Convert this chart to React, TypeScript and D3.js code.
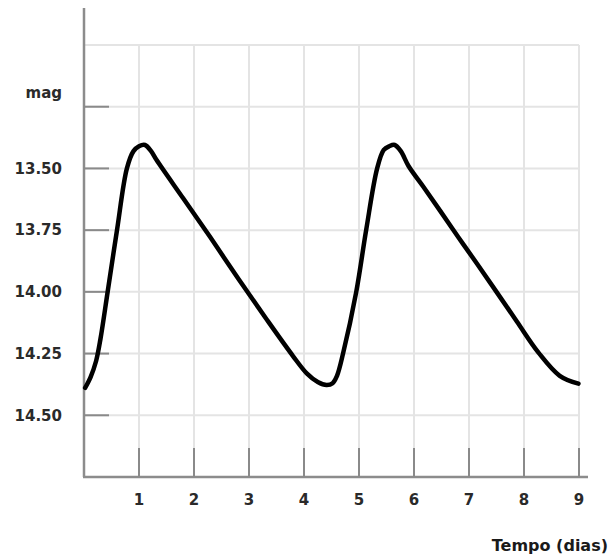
import React from 'react'
import * as d3 from 'd3'

// light curve: time in days, magnitude
const days = [0.02, 0.12, 0.22, 0.3, 0.43, 0.6, 0.78, 0.9, 1.0, 1.11, 1.22, 1.32, 1.8, 2.3, 2.8, 3.3, 3.8, 4.05, 4.25, 4.41, 4.52, 4.6, 4.71, 4.95, 5.13, 5.33, 5.45, 5.55, 5.65, 5.76, 5.9, 6.17, 6.47, 6.8, 7.14, 7.5, 7.87, 8.26, 8.65, 8.99]
const mags = [14.389, 14.345, 14.28, 14.19, 14.0, 13.75, 13.5, 13.43, 13.41, 13.405, 13.43, 13.466, 13.62, 13.78, 13.945, 14.105, 14.26, 14.33, 14.365, 14.377, 14.37, 14.34, 14.25, 14.0, 13.75, 13.5, 13.425, 13.41, 13.405, 13.43, 13.49, 13.574, 13.67, 13.777, 13.884, 14.0, 14.12, 14.245, 14.34, 14.372]

const xTicks = [1, 2, 3, 4, 5, 6, 7, 8, 9]
const yTicks = [13.25, 13.5, 13.75, 14.0, 14.25, 14.5]
const yGrid = [13.0, 13.25, 13.5, 13.75, 14.0, 14.25, 14.5]
const yLabels = ['13.50', '13.75', '14.00', '14.25', '14.50']

const W = 611
const H = 559

export default function App() {
  const x = d3.scaleLinear().domain([0, 9]).range([84, 579])
  const y = d3.scaleLinear().domain([13, 14.75]).range([45, 477])

  const line = d3.line<number>()
    .x((d, i) => x(days[i]))
    .y((d) => y(d))
    .curve(d3.curveCatmullRom.alpha(0.5))

  const font = '"DejaVu Sans", Verdana, sans-serif'

  return (
    <svg width={W} height={H} style={{ position: 'absolute', left: 0, top: 0, background: '#fff' }}
      fontFamily={font}>
      {/* grid */}
      {yGrid.map(v => (
        <line key={'gy' + v} x1={x(0)} x2={x(9)} y1={y(v)} y2={y(v)} stroke="#e4e4e4" strokeWidth={2} />
      ))}
      {xTicks.map(v => (
        <line key={'gx' + v} x1={x(v)} x2={x(v)} y1={y(13)} y2={y(14.75)} stroke="#e4e4e4" strokeWidth={2} />
      ))}

      {/* axes */}
      <line x1={x(0)} x2={x(0)} y1={8} y2={y(14.75)} stroke="#8c8c8c" strokeWidth={2.5} />
      <line x1={x(0) - 1} x2={588} y1={y(14.75)} y2={y(14.75)} stroke="#8c8c8c" strokeWidth={2.5} />

      {/* ticks */}
      {yTicks.map(v => (
        <line key={'ty' + v} x1={x(0)} x2={x(0) + 25} y1={y(v)} y2={y(v)} stroke="#8a8a8a" strokeWidth={2} />
      ))}
      {xTicks.map(v => (
        <line key={'tx' + v} x1={x(v)} x2={x(v)} y1={y(14.75) - 29} y2={y(14.75)} stroke="#8a8a8a" strokeWidth={2} />
      ))}

      {/* tick labels */}
      {yLabels.map(s => (
        <text key={'ly' + s} x={62} y={y(+s)} dy="0.35em" textAnchor="end" fontSize={15} fontWeight="bold" fill="#2a2a2a">{s}</text>
      ))}
      <text x={62} y={93} dy="0.35em" textAnchor="end" fontSize={15} fontWeight="bold" fill="#2a2a2a">mag</text>
      {xTicks.map(v => (
        <text key={'lx' + v} x={x(v)} y={500} dy="0.35em" textAnchor="middle" fontSize={15} fontWeight="bold" fill="#2a2a2a">{v}</text>
      ))}
      <text x={608} y={545} dy="0.35em" textAnchor="end" fontSize={16} fontWeight="bold" fill="#1a1a1a">Tempo (dias)</text>

      {/* light curve */}
      <path d={line(mags) || ''} fill="none" stroke="#000" strokeWidth={4.5} strokeLinejoin="round" strokeLinecap="round" />
    </svg>
  )
}
